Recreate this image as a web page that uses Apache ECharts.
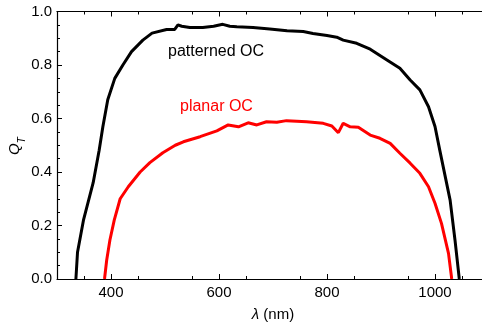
<!DOCTYPE html>
<html>
<head>
<meta charset="utf-8">
<script src="https://cdn.jsdelivr.net/npm/echarts@6/dist/echarts.min.js"></script>
<style>html,body{margin:0;padding:0;background:#fff}#c{width:482px;height:330px}</style>
</head>
<body>
<div id="c"></div>
<script>
var lambdaPatterned = [335,338,349,358,367,378,385,394,407,422,438,459,476,503,518,524,531,546,570,590,607,620,633,663,694,726,756,774,800,818,830,855,880,911,935,954,972,988,1000,1009,1028,1037,1045];
var qtPatterned = [0,0.10,0.22,0.29,0.36,0.48,0.57,0.67,0.75,0.80,0.85,0.893,0.919,0.933,0.933,0.95,0.945,0.94,0.94,0.945,0.952,0.945,0.943,0.94,0.935,0.928,0.925,0.918,0.91,0.904,0.893,0.881,0.859,0.819,0.788,0.744,0.707,0.644,0.57,0.48,0.295,0.146,0];
var lambdaPlanar = [388,392,398,406,417,432,454,472,496,519,534,565,596,617,636,654,670,688,707,725,744,762,793,809,821,830,843,858,880,898,917,935,954,972,988,1000,1012,1025,1031];
var qtPlanar = [0,0.07,0.146,0.22,0.30,0.345,0.40,0.435,0.472,0.50,0.513,0.532,0.554,0.576,0.569,0.584,0.576,0.588,0.586,0.592,0.59,0.588,0.582,0.572,0.547,0.582,0.569,0.567,0.538,0.526,0.507,0.47,0.433,0.395,0.345,0.283,0.208,0.096,0];
var xLabelValues = [400,600,800,1000];
var yTickLabels = ['0.0','0.2','0.4','0.6','0.8','1.0'];
var seriesNames = ['patterned OC','planar OC'];

function pairs(xs, ys){ return xs.map(function(x,i){ return [x, ys[i]]; }); }

var font = 'Liberation Sans, Arial, sans-serif';
var chart = echarts.init(document.getElementById('c'), null, {renderer:'canvas'});
var axisCommon = {
  min: 300, max: 1100, interval: 100,
  axisLine: {lineStyle:{color:'#000', width:1.2}},
  splitLine: {show:false}
};
chart.setOption({
  animation: false,
  grid: {left:57, top:11.5, right:-7, bottom:51, containLabel:false, outerBoundsMode:'none'},
  xAxis: [
    Object.assign({}, axisCommon, {
      type:'value', position:'bottom',
      axisTick: {inside:true, length:5, customValues: xLabelValues, lineStyle:{color:'#000', width:1}},
      minorTick: {show:true, splitNumber:2, length:3, lineStyle:{color:'#000', width:1}},
      axisLabel: {customValues: xLabelValues, color:'#000', fontSize:15, fontFamily:font, margin:6,
        formatter:function(v){ return String(v); }},
      name: '{i|λ} (nm)', nameLocation:'middle', nameGap:28, nameMoveOverlap:false,
      nameTextStyle: {color:'#000', fontSize:15, fontFamily:font, rich:{i:{fontStyle:'italic', fontSize:15, fontFamily:font, color:'#000'}}}
    }),
    Object.assign({}, axisCommon, {
      type:'value', position:'top',
      axisTick: {inside:true, length:5, customValues: xLabelValues, lineStyle:{color:'#000', width:1}},
      minorTick: {show:true, splitNumber:2, length:3, lineStyle:{color:'#000', width:1}},
      axisLabel: {show:false}
    })
  ],
  yAxis: [{
    type:'value', min:0, max:1, interval:0.2,
    axisLine:{show:true, lineStyle:{color:'#000', width:1.2}},
    axisTick:{inside:true, length:5, lineStyle:{color:'#000', width:1}},
    minorTick:{show:true, splitNumber:4, length:3, lineStyle:{color:'#000', width:1}},
    splitLine:{show:false},
    axisLabel:{color:'#000', fontSize:15, fontFamily:font, margin:5,
      formatter:function(v){ return yTickLabels[Math.round(v*5)]; }}
  }],
  graphic: [
    {type:'text', x:17, y:146, rotation:Math.PI/2,
     style:{text:'{q|Q}{t|T}', align:'center', verticalAlign:'middle',
       rich:{q:{fontStyle:'italic', fontSize:15, fontFamily:font, fill:'#000', lineHeight:20, verticalAlign:'top'},
             t:{fontStyle:'italic', fontSize:10, fontFamily:font, fill:'#000', lineHeight:20, verticalAlign:'bottom', padding:[9,0,0,0]}}}},
    {type:'text', left:168, top:44, style:{text:seriesNames[0], fill:'#000', font:'16px '+font}},
    {type:'text', left:180, top:99, style:{text:seriesNames[1], fill:'#ff0000', font:'16px '+font}}
  ],
  series: [
    {name:seriesNames[0], type:'line', data:pairs(lambdaPatterned, qtPatterned), showSymbol:false,
     lineStyle:{color:'#000', width:3}, itemStyle:{color:'#000'}, clip:true},
    {name:seriesNames[1], type:'line', data:pairs(lambdaPlanar, qtPlanar), showSymbol:false,
     lineStyle:{color:'#ff0000', width:3}, itemStyle:{color:'#ff0000'}, clip:true}
  ]
});
</script>
</body>
</html>
